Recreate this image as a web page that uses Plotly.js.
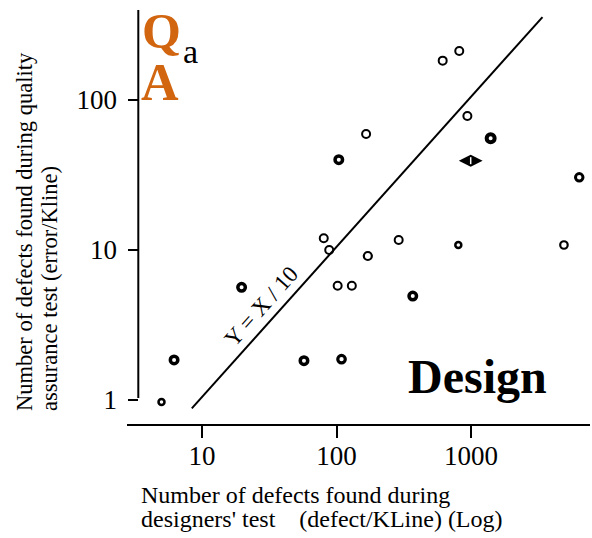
<!DOCTYPE html>
<html>
<head>
<meta charset="utf-8">
<script src="https://cdn.plot.ly/plotly-3.0.1.min.js"></script>
<style>html,body{margin:0;padding:0;background:#fff;}#chart{width:592px;height:538px;}</style>
</head>
<body>
<div id="chart"></div>
<script>
// ---- data ----
const designerDefects = [5.0, 6.2, 19.7, 57.3, 104, 166, 80.4, 88.3, 290, 171, 102, 130, 369, 109, 616, 818, 940, 1400, 805, 4910, 6380];
const qaDefects       = [0.97, 1.85, 5.64, 1.83, 40, 59.3, 11.97, 10, 11.66, 9.12, 5.78, 5.78, 4.93, 1.87, 183, 212, 78.2, 55.5, 10.8, 10.8, 30.5];
const specialX = [995];
const specialY = [39.4];
const refLineX = [8.4, 3400];
const refLineY = [0.88, 357];
const xTickVals = [10, 100, 1000];
const xTickText = ['10', '100', '1000'];
const yTickVals = [1, 10, 100];
const yTickText = ['1', '10', '100'];

// ---- styles ----
const markerSizes  = [6, 7.5, 7.5, 7.5, 7.5, 8, 8, 8, 8, 8, 8, 8, 7.5, 7.5, 8, 8, 8, 8, 6, 7.5, 7.5];
const markerWidths = [2.5, 3.5, 3.5, 3.5, 3.5, 2, 2, 2, 2, 2.2, 2, 2, 3.5, 3.2, 2, 2, 2, 4, 2.5, 2.2, 3];
const orange = '#D2650F';
const serif = 'Liberation Serif, Times New Roman, serif';

const W = 592, H = 538;
const M = {l: 127, r: 2, t: 10, b: 114};
const pw = W - M.l - M.r, ph = H - M.t - M.b;
const px = x => (x - M.l) / pw;
const py = y => (H - M.b - y) / ph;

const traces = [
  {
    x: refLineX, y: refLineY, mode: 'lines', type: 'scatter',
    line: {color: '#000', width: 2}, hoverinfo: 'skip'
  },
  {
    x: designerDefects, y: qaDefects, mode: 'markers', type: 'scatter',
    cliponaxis: false,
    marker: {symbol: 'circle-open', size: markerSizes, color: '#000', opacity: 1,
             line: {color: '#000', width: markerWidths}}
  },
  {
    x: specialX, y: specialY, mode: 'markers', type: 'scatter', cliponaxis: false,
    marker: {symbol: 'diamond-wide', size: 17, color: '#000', opacity: 1, line: {width: 0}}
  },
  {
    x: specialX, y: specialY, mode: 'markers', type: 'scatter', cliponaxis: false,
    marker: {symbol: 'line-ns', size: 5, color: '#fff', opacity: 1, line: {color: '#fff', width: 1.5}}
  }
];

const layout = {
  width: W, height: H,
  margin: M,
  paper_bgcolor: '#fff', plot_bgcolor: '#fff',
  showlegend: false,
  font: {family: serif, color: '#000'},
  xaxis: {
    type: 'log', range: [0.4424, 3.8848],
    tickvals: xTickVals, ticktext: xTickText,
    ticks: 'outside', ticklen: 12, tickwidth: 2, tickcolor: '#000',
    showline: true, linewidth: 2, linecolor: '#000',
    showgrid: false, zeroline: false, automargin: false,
    tickfont: {family: serif, size: 27, color: '#000'},
    ticklabelstandoff: -5, fixedrange: true
  },
  yaxis: {
    type: 'log', range: [-0.16, 2.6],
    tickvals: yTickVals, ticktext: yTickText,
    anchor: 'free', position: px(138.3),
    ticks: 'outside', ticklen: 10, tickwidth: 2, tickcolor: '#000',
    showline: false, showgrid: false, zeroline: false, automargin: false,
    tickfont: {family: serif, size: 27, color: '#000'},
    ticklabelstandoff: 6, fixedrange: true
  },
  shapes: [
    {type: 'line', xref: 'paper', yref: 'paper', x0: px(138.3), x1: px(138.3),
     y0: py(398), y1: py(10), line: {color: '#000', width: 2}}
  ],
  annotations: [
    {xref: 'paper', yref: 'paper', x: px(141), y: py(2), xanchor: 'left', yanchor: 'top',
     text: '<b>Q</b>', showarrow: false, borderpad: 0,
     font: {family: serif, size: 50, color: orange}},
    {xref: 'paper', yref: 'paper', x: px(181.5), y: py(51), xanchor: 'left', yanchor: 'middle',
     text: 'a', showarrow: false, borderpad: 0, font: {family: serif, size: 34, color: '#000'}},
    {xref: 'paper', yref: 'paper', x: px(159.5), y: py(82.5), xanchor: 'center', yanchor: 'middle',
     text: '<b>A</b>', showarrow: false, font: {family: serif, size: 52, color: orange}},
    {xref: 'paper', yref: 'paper', x: px(477), y: py(376.8), xanchor: 'center', yanchor: 'middle',
     text: '<b>Design</b>', showarrow: false, font: {family: serif, size: 48, color: '#000'}},
    {xref: 'paper', yref: 'paper', x: px(261), y: py(306), xanchor: 'center', yanchor: 'middle',
     text: 'Y = X / 10', textangle: -48.3, showarrow: false, font: {family: serif, size: 23, color: '#000'}},
    {xref: 'paper', yref: 'paper', x: px(139), y: py(495), xanchor: 'left', yanchor: 'middle',
     text: 'Number of defects found during', showarrow: false, font: {family: serif, size: 24, color: '#000'}},
    {xref: 'paper', yref: 'paper', x: px(139), y: py(519), xanchor: 'left', yanchor: 'middle',
     text: "designers' test\u00A0\u00A0\u00A0\u00A0(defect/KLine) (Log)", showarrow: false, font: {family: serif, size: 24, color: '#000'}},
    {xref: 'paper', yref: 'paper', x: px(24.4), y: py(413), xanchor: 'center', yanchor: 'bottom',
     text: 'Number of defects found during quality', textangle: -90, showarrow: false, font: {family: serif, size: 22.5, color: '#000'}},
    {xref: 'paper', yref: 'paper', x: px(49.4), y: py(413), xanchor: 'center', yanchor: 'bottom',
     text: 'assurance test (error/Kline)', textangle: -90, showarrow: false, font: {family: serif, size: 22.5, color: '#000'}}
  ]
};

Plotly.newPlot('chart', traces, layout, {displayModeBar: false, staticPlot: true});
</script>
</body>
</html>
